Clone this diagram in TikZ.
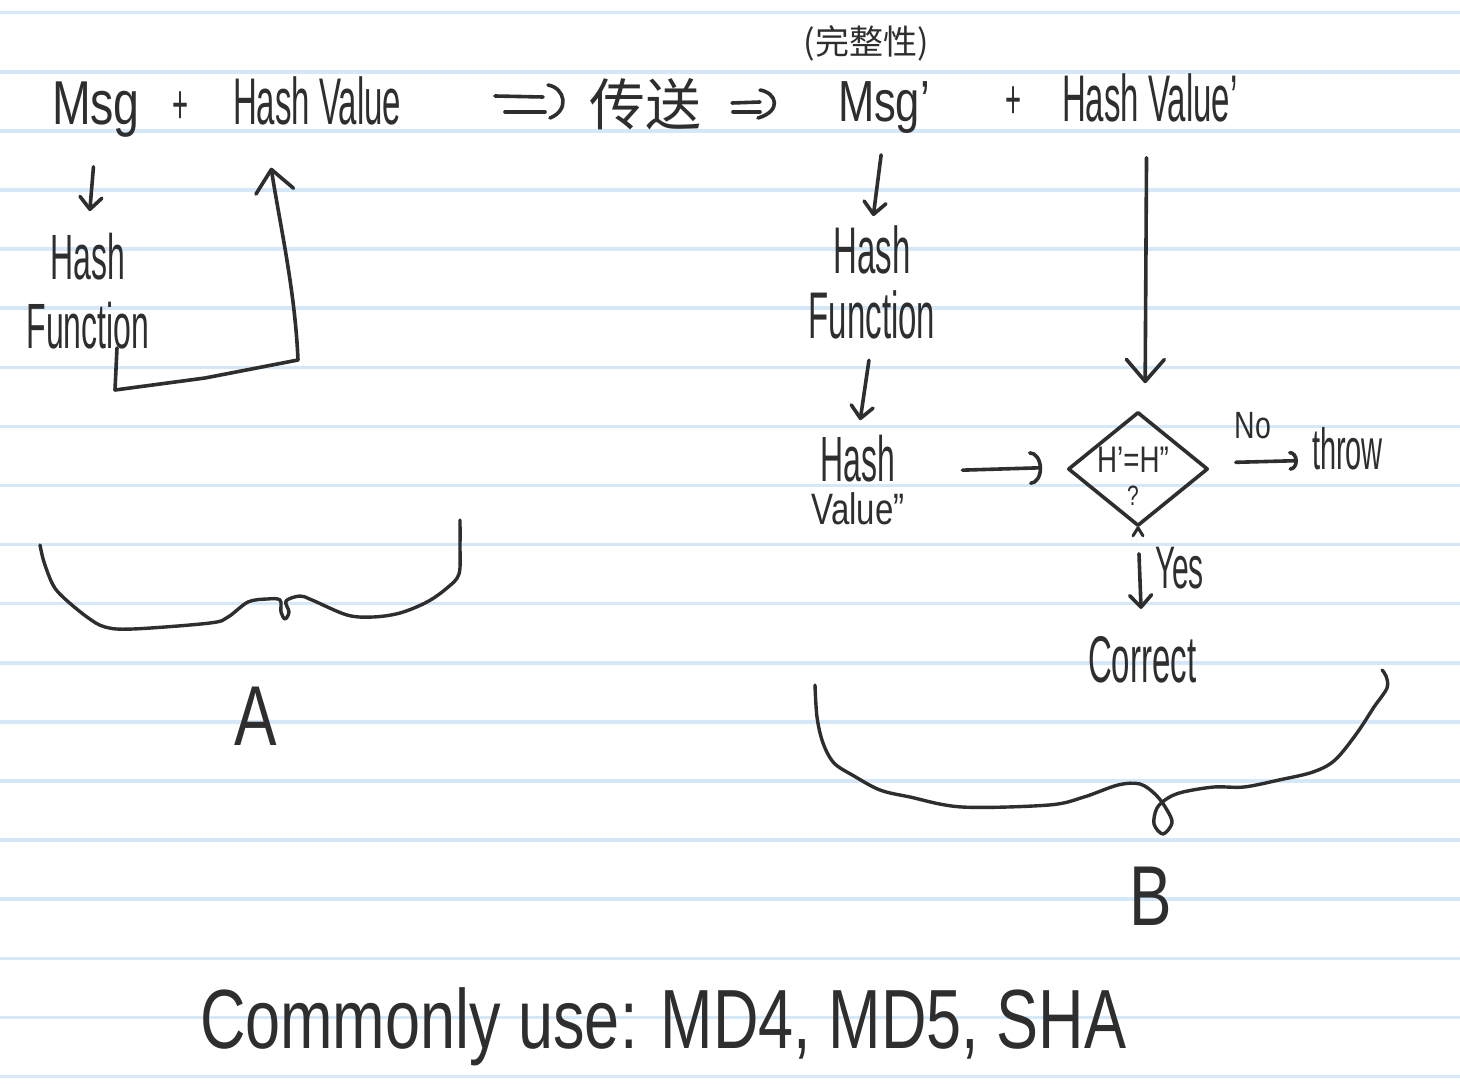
\documentclass[tikz,border=0pt]{standalone}
\usepackage{fontspec}
\setmainfont{Liberation Sans}
\newfontfamily\hand{Liberation Sans}[FakeStretch=0.5,Ligatures=TeX]
\newfontfamily\handw{Liberation Sans}[FakeStretch=0.75,Ligatures=TeX]
\newfontfamily\cjk{Noto Sans CJK SC}
\usetikzlibrary{arrows.meta,shapes.geometric,calc}
\definecolor{ink}{HTML}{2E2E2E}
\definecolor{ruleblue}{HTML}{D5E8F9}
\newcommand{\fs}[1]{\fontsize{#1}{#1}\selectfont}
\begin{document}
\begin{tikzpicture}[x=1pt,y=-1pt,
  pen/.style={draw=ink,line width=3.6pt,line cap=round,line join=round},
  txt/.style={inner sep=0pt,outer sep=0pt,text=ink},
  arrs/.style={pen,-{Straight Barb[length=12pt,width=22pt,round]}},
  arrb/.style={pen,-{Straight Barb[length=22pt,width=38pt,round]}},
  arcb/.style={pen,-{Arc Barb[length=12pt,width=34pt,round]}},
  arcs/.style={pen,-{Arc Barb[length=8pt,width=20pt,round]}},
  brace/.style={pen,line width=3.4pt}
]
\fill[white] (0,0) rectangle (1460,1092);
\useasboundingbox (0,0) rectangle (1460,1092);
\foreach \k in {0,...,18}{
  \draw[ruleblue,line width=3.5pt] (0,{12.7+59.1*\k}) -- (1460,{12.7+59.1*\k});
}

% ---------- top line ----------
\node[txt,anchor=base west,font=\handw\fs{62}] (msg) at (52,124) {Msg};
\node[txt,anchor=base,font=\hand\fs{55}] (plusA) at (181,123) {+};
\node[txt,anchor=base west,font=\hand\fs{66}] (hv) at (233,124) {Hash Value};
\node[txt,font=\cjk\fs{56}] (send) at (645,104) {传送};
\node[txt,font=\cjk\fs{34}] (integ) at (866,43) {(完整性)};
\node[txt,anchor=base west,font=\handw\fs{58}] (msgB) at (838,121) {Msg'};
\node[txt,anchor=base,font=\hand\fs{55}] (plusB) at (1014,118) {+};
\node[txt,anchor=base west,font=\hand\fs{66}] (hvB) at (1062,121) {Hash Value'};

% "=)" arrows
\coordinate (iA) at (495,104);
\draw[pen] ($(iA)+(0,-8)$) -- ($(iA)+(48,-7)$);
\draw[pen] ($(iA)+(10,8)$) -- ($(iA)+(50,8)$);
\draw[pen] ($(iA)+(53,-19)$) .. controls ($(iA)+(70,-16)$) and ($(iA)+(75,6)$) .. ($(iA)+(55,14)$);
\coordinate (iB) at (732,107);
\draw[pen] ($(iB)+(0,-4)$) -- ($(iB)+(28,-5)$);
\draw[pen] ($(iB)+(1,5)$) -- ($(iB)+(28,5)$);
\draw[pen] ($(iB)+(28,-17)$) .. controls ($(iB)+(45,-14)$) and ($(iB)+(50,4)$) .. ($(iB)+(26,11)$);

% ---------- left part ----------
\node[txt,anchor=north,align=center,font=\hand\fontsize{64}{69}\selectfont] (hfA) at (88,233) {Hash\\Function};
\draw[arrs,shorten <=30pt,shorten >=22pt] (msg.south) -- (hfA.north);
\draw[arrb] ([xshift=29pt,yshift=1pt]hfA.south) -- (115,390) -- (205,378) -- (298,360)
  .. controls (295,290) and (280,225) .. ([xshift=-46pt,yshift=-43pt]hv.south);

% brace A
\draw[brace] plot[smooth,tension=0.55] coordinates {(40,545) (44,562) (53,585) (64,598) (87,617) (105,627) (133,629) (210,623) (228,617) (248,602) (267,599) (280,600) (281,612) (285,619) (289,612) (286,601) (300,596) (312,600) (347,615) (373,617) (400,613) (427,602) (447,588) (459,574) (460,545) (460,520)};
\node[txt,anchor=base,font=\handw\fs{85}] (labA) at (256,745) {A};

% ---------- right part ----------
\node[txt,anchor=north,align=center,font=\hand\fontsize{66}{65}\selectfont] (hfB) at (872,226) {Hash\\Function};
\node[txt,anchor=north,align=center,font=\hand\fontsize{64}{43}\selectfont] (hvC) at (858,435) {Hash\\{\handw\fs{44}Value''}};
\node[diamond,pen,minimum width=140pt,minimum height=114pt,inner sep=0pt] (dia) at (1138,469) {};
\node[txt,align=center,font=\handw\fontsize{37}{33}\selectfont] (cmp) at ([xshift=-5pt,yshift=-7pt]dia.center) {H'=H''\\{\fs{28}?}};
\draw[pen,line width=3pt] (dia.south) -- ++(-5,8);
\draw[pen,line width=3pt] (dia.south) -- ++(5,8);

\draw[arrs,shorten <=22pt,shorten >=10pt] (msgB.south) -- (hfB.north);
\draw[arrs,shorten <=21pt,shorten >=15pt] (hfB.south) -- (hvC.north);
\draw[arrb,shorten <=36pt,shorten >=27pt] ([xshift=-3pt]hvB.south) -- ([xshift=7pt]dia.north);
\draw[arcb,shorten <=58pt,shorten >=24pt] ([yshift=8pt]hvC.east) -- ([yshift=2pt]dia.west);

\node[txt,font=\handw\fs{38}] (no) at (1253,426) {No};
\node[txt,anchor=base west,font=\hand\fs{58}] (throw) at (1312,469) {throw};
\draw[arcs,shorten <=26pt,shorten >=14pt] ([yshift=6pt]dia.east) -- ([yshift=-12pt]throw.west);

\node[txt,anchor=base west,font=\hand\fs{60}] (yes) at (1155,588) {Yes};
\node[txt,anchor=base west,font=\hand\fs{66}] (correct) at (1088,682) {Correct};
\draw[arrs,shorten <=26pt,shorten >=27pt] (dia.south) -- (correct.north);

% brace B
\draw[brace] plot[smooth,tension=0.55] coordinates {(815,685) (817,717) (823,743) (834,763) (854,776) (880,790) (910,797) (962,807) (1049,805) (1084,797) (1118,785) (1140,784) (1156,795) (1167,810) (1172,823) (1163,834) (1154,824) (1157,808) (1168,798) (1183,792) (1214,787) (1244,787) (1279,780) (1313,772) (1335,760) (1357,733) (1374,707) (1387,688) (1386,676) (1382,670)};
\node[txt,anchor=base,font=\handw\fs{85}] (labB) at (1151,925) {B};

% ---------- bottom ----------
\node[txt,anchor=base west,font=\handw\fs{84}] (common) at (200,1048) {Commonly use: MD4, MD5, SHA};
\end{tikzpicture}
\end{document}
